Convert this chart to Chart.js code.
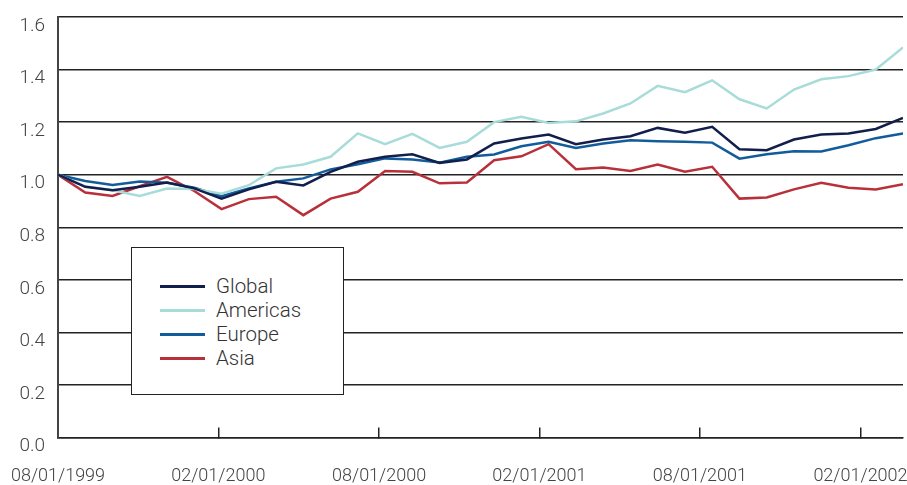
<!DOCTYPE html>
<html lang="en">
<head>
<meta charset="UTF-8" />
<title>Regional performance</title>
<script src="https://cdn.jsdelivr.net/npm/chart.js"></script>
<style>
body { margin: 0; background: #fff; }
.wrap { position: relative; width: 907px; height: 485px; }
#legend {
    position: absolute;
    left: 131px;
    top: 247px;
    width: 213px;
    height: 148px;
    box-sizing: border-box;
    border: 1.5px solid #222;
    background: #fff;
    padding-top: 26px;
    font-family: Roboto, 'Liberation Sans', sans-serif;
    font-weight: 300;
    font-size: 20.5px;
    color: #333;
}
.item { display: flex; align-items: center; height: 24px; }
.swatch { width: 45px; height: 3px; margin-left: 28px; margin-right: 11px; }
</style>
</head>
<body>
<div class="wrap">
    <canvas id="chart" width="907" height="485"></canvas>
    <div id="legend"></div>
</div>
<script>
// monthly index values, base = 1.0 at 08/1999
const seriesNames = ['Global', 'Americas', 'Europe', 'Asia'];
const seriesColors = ['#121f4c', '#a8dcd9', '#135c9c', '#b8313a'];

const globalVals = [1.0, 0.954, 0.941, 0.954, 0.970, 0.948, 0.909, 0.944, 0.973, 0.959, 1.011, 1.049, 1.068, 1.078, 1.045, 1.058,
    1.119, 1.138, 1.153, 1.116, 1.134, 1.146, 1.178, 1.160, 1.182, 1.097, 1.093, 1.134, 1.153, 1.157, 1.174, 1.216];
const americasVals = [1.0, 0.955, 0.941, 0.919, 0.947, 0.946, 0.928, 0.960, 1.024, 1.039, 1.068, 1.157, 1.116, 1.155, 1.102, 1.125,
    1.200, 1.220, 1.197, 1.203, 1.233, 1.271, 1.338, 1.314, 1.359, 1.287, 1.252, 1.324, 1.363, 1.375, 1.400, 1.484];
const europeVals = [1.0, 0.976, 0.961, 0.974, 0.969, 0.950, 0.918, 0.948, 0.973, 0.986, 1.020, 1.040, 1.062, 1.058, 1.046, 1.068,
    1.077, 1.108, 1.125, 1.102, 1.119, 1.131, 1.127, 1.125, 1.122, 1.061, 1.078, 1.089, 1.088, 1.112, 1.139, 1.157];
const asiaVals = [1.0, 0.932, 0.919, 0.956, 0.992, 0.938, 0.869, 0.907, 0.916, 0.846, 0.909, 0.935, 1.014, 1.011, 0.967, 0.970,
    1.055, 1.070, 1.116, 1.021, 1.027, 1.014, 1.039, 1.011, 1.030, 0.909, 0.913, 0.944, 0.969, 0.950, 0.944, 0.964];

// x tick marks (in months from the first observation) and their labels
const tickPos = [0, 5.88, 11.78, 17.66, 23.55, 29.44];
const tickLabels = ['08/01/1999', '02/01/2000', '08/01/2000', '02/01/2001', '08/01/2001', '02/01/2002'];

const allVals = [globalVals, americasVals, europeVals, asiaVals];
const family = "Roboto, 'Liberation Sans', sans-serif";

const datasets = seriesNames.map((name, s) => ({
    label: name,
    data: allVals[s].map((v, i) => ({ x: i, y: v })),
    borderColor: seriesColors[s],
    borderWidth: 2.5,
    pointRadius: 0,
    tension: 0,
    fill: false
}));

new Chart(document.getElementById('chart'), {
    type: 'line',
    data: { datasets },
    options: {
        responsive: false,
        animation: false,
        layout: { padding: { top: 17, right: 4, left: 0, bottom: 0 } },
        plugins: { legend: { display: false }, tooltip: { enabled: false } },
        scales: {
            x: {
                type: 'linear',
                min: 0,
                max: globalVals.length - 1,
                afterFit: s => { s.height = 47.5; s.paddingLeft = 0; s.paddingRight = 0; },
                afterBuildTicks: s => { s.ticks = tickPos.map(v => ({ value: v })); },
                grid: { drawOnChartArea: false, drawTicks: true, tickLength: -10, color: '#222', lineWidth: 1.5 },
                border: { color: '#222', width: 1.5 },
                ticks: {
                    autoSkip: false, maxRotation: 0, padding: 38,
                    color: '#444', font: { family, size: 18, weight: '300' },
                    callback: (v, i) => tickLabels[i]
                }
            },
            y: {
                min: 0,
                max: 1.6,
                afterFit: s => { s.width = 58; s.paddingTop = 0; s.paddingBottom = 0; },
                grid: { drawTicks: false, color: '#222', lineWidth: 1.5 },
                border: { color: '#444', width: 2 },
                ticks: {
                    stepSize: 0.2, padding: 13, labelOffset: 9,
                    color: '#444', font: { family, size: 19, weight: '300' },
                    callback: v => v.toFixed(1)
                }
            }
        }
    }
});

// legend box
const legend = document.getElementById('legend');
seriesNames.forEach((name, s) => {
    const row = document.createElement('div');
    row.className = 'item';
    row.innerHTML = `<span class="swatch" style="background:${seriesColors[s]}"></span><span>${name}</span>`;
    legend.appendChild(row);
});
</script>
</body>
</html>
